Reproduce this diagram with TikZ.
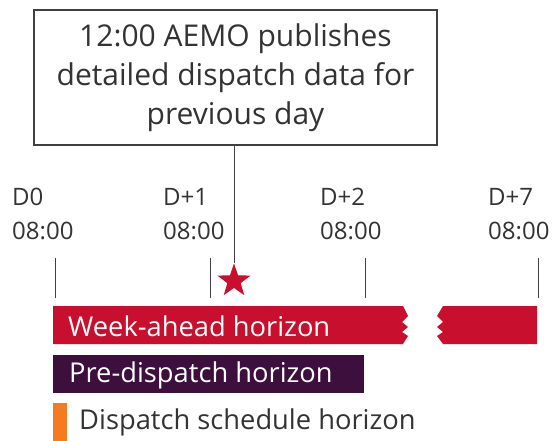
\documentclass[tikz,border=0pt]{standalone}
\usepackage{fontspec}
\setmainfont{Open Sans}
\usetikzlibrary{shapes.geometric}
\definecolor{wred}{HTML}{C8102E}
\definecolor{ppurple}{HTML}{3C0F3D}
\definecolor{dorange}{HTML}{F47B20}
\definecolor{txt}{HTML}{333333}
\definecolor{edge}{HTML}{404040}
\tikzset{
  lbl/.style={font=\fontsize{24}{34}\selectfont, text=txt, align=left, inner sep=0pt, anchor=base west},
  tick/.style={draw=edge, line width=0.9pt},
  bartext/.style={font=\fontsize{27.3}{30}\selectfont, inner sep=0pt, anchor=west},
}
\begin{document}
\begin{tikzpicture}[x=1pt,y=-1pt]
\useasboundingbox (0,0) rectangle (555,441);
% callout box
\node[draw=edge, line width=1.3pt, minimum width=403pt, minimum height=135pt, inner sep=0pt,
      font=\fontsize{30}{39}\selectfont, text=txt, align=center] (box) at (235.5,77.5)
  {12:00 AEMO publishes\\detailed dispatch data for\\previous day};
% time labels
\node[lbl] (l0) at (12,240) {D0\\08:00};
\node[lbl] (l1) at (163,240) {D+1\\08:00};
\node[lbl] (l2) at (320,240) {D+2\\08:00};
\node[lbl] (l7) at (488,240) {D+7\\08:00};
% ticks
\coordinate (t0a) at (55,258); \coordinate (t0b) at (55,298);
\coordinate (t1a) at (210,258); \coordinate (t1b) at (210,298);
\coordinate (t2a) at (365,258); \coordinate (t2b) at (365,298);
\coordinate (t7a) at (538,258); \coordinate (t7b) at (538,298);
\draw[tick] (t0a) -- (t0b);
\draw[tick] (t1a) -- (t1b);
\draw[tick] (t2a) -- (t2b);
\draw[tick] (t7a) -- (t7b);
% star
\node[star, star points=5, star point ratio=2.5, fill=wred, minimum size=35pt, inner sep=0pt] (st) at (234,281) {};
\draw[draw=edge, line width=0.9pt] (box.south -| st.north) -- (st.north);
% week-ahead bar
\fill[wred] (53,306) -- (403,306) -- (408,316) -- (402,322) -- (408,327) -- (402,332) -- (408,336) -- (403,344) -- (53,344) -- cycle;
\fill[wred] (443,306) -- (537,306) -- (537,344) -- (443,344) -- (437,336) -- (443,332) -- (437,327) -- (443,322) -- (437,316) -- cycle;
\node[bartext, text=white] (wk) at (68,326) {Week-ahead horizon};
% pre-dispatch bar
\fill[ppurple] (53,355) rectangle (364,393);
\node[bartext, text=white] (pd) at (69,375) {Pre-dispatch horizon};
% dispatch
\fill[dorange] (53,403) rectangle (67,441);
\node[bartext, text=txt] (ds) at (79,422) {Dispatch schedule horizon};
\end{tikzpicture}
\end{document}
